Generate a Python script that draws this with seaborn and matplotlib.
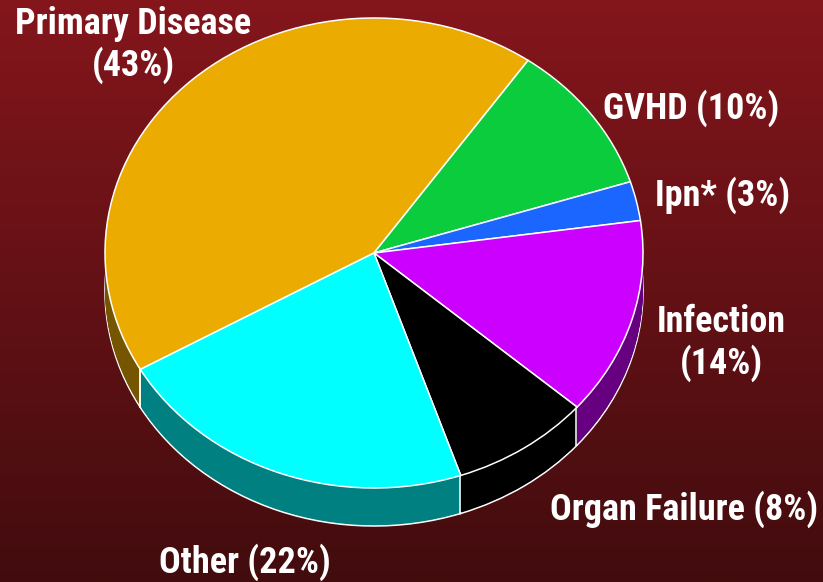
import numpy as np
import matplotlib
matplotlib.use("Agg")
import matplotlib.pyplot as plt
import seaborn as sns

# slice sizes (percent)
causes = ["Primary Disease", "GVHD", "Ipn*", "Infection", "Organ Failure", "Other"]
shares = [43, 10.4, 2.7, 13.6, 8.4, 22]
top_colors = ["#EBAB00", "#0ACC3D", "#1A66FF", "#CC00FF", "#000000", "#00FFFF"]
wall_colors = ["#755500", "#066620", "#0D3380", "#660080", "#000000", "#008080"]

label_texts = ["Primary Disease\n(43%)", "GVHD (10%)", "Ipn* (3%)",
               "Infection\n(14%)", "Organ Failure (8%)", "Other (22%)"]
label_x = [133, 691, 723, 721, 684, 245]
label_y = [45, 108, 195, 343, 509, 562]

W, H = 823, 582
cx, cy, rx, ry = 374, 253, 269, 235
depth = 38 / ry
start = 209.7
edge = 1.1

sns.set_theme(style="white")
plt.rcParams['font.family'] = ['Roboto Condensed', 'DejaVu Sans']

fig = plt.figure(figsize=(W / 100, H / 100), dpi=100)
ax = fig.add_axes([0, 0, 1, 1])

xlim = (-cx / rx, (W - cx) / rx)
ylim = ((cy - H) / ry, cy / ry)

# background gradient, dark red at the bottom
grad = np.linspace(0, 1, 256).reshape(-1, 1)
bg = sns.blend_palette(["#84161C", "#420C0E"], n_colors=256, as_cmap=True)
ax.imshow(grad, cmap=bg, extent=(*xlim, *ylim), aspect="auto", zorder=0)

# side wall: bottom pie with white rim, then stacked copies up to the top
ax.pie(shares, colors=sns.color_palette(wall_colors), startangle=start, counterclock=False,
       center=(0, -depth), wedgeprops={"edgecolor": "white", "linewidth": edge})
for d in np.linspace(depth - 0.006, 0, 30):
    ax.pie(shares, colors=sns.color_palette(wall_colors), startangle=start, counterclock=False,
           center=(0, -d), wedgeprops={"linewidth": 0})

# white seams between the wall segments
bounds = start - np.cumsum([0] + shares) * 3.6
for a in np.radians(bounds):
    if np.sin(a) < 0:
        ax.plot([np.cos(a)] * 2, [np.sin(a), np.sin(a) - depth], color="white", lw=edge, zorder=5)

# top face
ax.pie(shares, colors=sns.color_palette(top_colors), startangle=start, counterclock=False,
       wedgeprops={"edgecolor": "white", "linewidth": edge})

ax.set_aspect("auto")
ax.set_xlim(*xlim)
ax.set_ylim(*ylim)
ax.axis("off")

for txt, x, y in zip(label_texts, label_x, label_y):
    fig.text(x / W, 1 - y / H, txt, color="white", fontsize=26, fontweight="bold",
             ha="center", va="center", linespacing=1.18)

fig.savefig("out.png", dpi=100)
